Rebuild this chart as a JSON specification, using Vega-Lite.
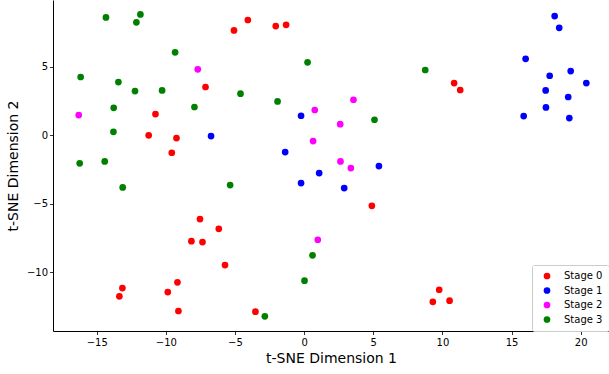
{
  "$schema": "https://vega.github.io/schema/vega-lite/v6.json",
  "width": 556,
  "height": 331,
  "autosize": {"type": "none"},
  "padding": {"left": 53, "top": 0, "right": 0, "bottom": 43},
  "config": {
    "view": {"stroke": null},
    "font": "DejaVu Sans",
    "axis": {"grid": false, "domainColor": "black", "tickColor": "black", "labelColor": "black", "titleColor": "black", "labelFont": "DejaVu Sans", "titleFont": "DejaVu Sans", "labelFontSize": 10, "titleFontSize": 14, "titleFontWeight": "normal", "tickSize": 3.5, "domainWidth": 1, "tickWidth": 0.8}
  },
  "data": {"values": [
    {"x": -14.33, "y": 8.61, "stage": "Stage 3"},
    {"x": -11.84, "y": 8.83, "stage": "Stage 3"},
    {"x": -12.13, "y": 8.25, "stage": "Stage 3"},
    {"x": -9.33, "y": 6.06, "stage": "Stage 3"},
    {"x": -16.16, "y": 4.26, "stage": "Stage 3"},
    {"x": -13.43, "y": 3.89, "stage": "Stage 3"},
    {"x": -12.23, "y": 3.23, "stage": "Stage 3"},
    {"x": -10.27, "y": 3.28, "stage": "Stage 3"},
    {"x": -13.77, "y": 2.01, "stage": "Stage 3"},
    {"x": -7.93, "y": 2.07, "stage": "Stage 3"},
    {"x": -4.6, "y": 3.04, "stage": "Stage 3"},
    {"x": -1.92, "y": 2.48, "stage": "Stage 3"},
    {"x": 0.25, "y": 5.33, "stage": "Stage 3"},
    {"x": -13.79, "y": 0.26, "stage": "Stage 3"},
    {"x": -16.23, "y": -2.04, "stage": "Stage 3"},
    {"x": -14.42, "y": -1.9, "stage": "Stage 3"},
    {"x": -13.12, "y": -3.8, "stage": "Stage 3"},
    {"x": -5.35, "y": -3.63, "stage": "Stage 3"},
    {"x": 8.76, "y": 4.77, "stage": "Stage 3"},
    {"x": 5.09, "y": 1.14, "stage": "Stage 3"},
    {"x": -2.84, "y": -13.21, "stage": "Stage 3"},
    {"x": 0.03, "y": -10.61, "stage": "Stage 3"},
    {"x": 0.61, "y": -8.76, "stage": "Stage 3"},
    {"x": -5.07, "y": 7.66, "stage": "Stage 0"},
    {"x": -4.07, "y": 8.42, "stage": "Stage 0"},
    {"x": -2.05, "y": 7.98, "stage": "Stage 0"},
    {"x": -1.3, "y": 8.07, "stage": "Stage 0"},
    {"x": -7.13, "y": 3.53, "stage": "Stage 0"},
    {"x": -10.75, "y": 1.55, "stage": "Stage 0"},
    {"x": -11.24, "y": 0.0, "stage": "Stage 0"},
    {"x": -9.23, "y": -0.2, "stage": "Stage 0"},
    {"x": -9.57, "y": -1.27, "stage": "Stage 0"},
    {"x": 10.85, "y": 3.82, "stage": "Stage 0"},
    {"x": 11.29, "y": 3.31, "stage": "Stage 0"},
    {"x": -7.53, "y": -6.11, "stage": "Stage 0"},
    {"x": -6.17, "y": -6.82, "stage": "Stage 0"},
    {"x": -8.15, "y": -7.72, "stage": "Stage 0"},
    {"x": -7.35, "y": -7.79, "stage": "Stage 0"},
    {"x": -5.72, "y": -9.47, "stage": "Stage 0"},
    {"x": -9.16, "y": -10.73, "stage": "Stage 0"},
    {"x": -9.86, "y": -11.44, "stage": "Stage 0"},
    {"x": -13.14, "y": -11.15, "stage": "Stage 0"},
    {"x": -13.36, "y": -11.75, "stage": "Stage 0"},
    {"x": -9.09, "y": -12.82, "stage": "Stage 0"},
    {"x": -3.52, "y": -12.87, "stage": "Stage 0"},
    {"x": 4.9, "y": -5.14, "stage": "Stage 0"},
    {"x": 9.77, "y": -11.27, "stage": "Stage 0"},
    {"x": 9.31, "y": -12.15, "stage": "Stage 0"},
    {"x": 10.52, "y": -12.07, "stage": "Stage 0"},
    {"x": -6.73, "y": -0.05, "stage": "Stage 1"},
    {"x": -0.22, "y": 1.43, "stage": "Stage 1"},
    {"x": -1.37, "y": -1.22, "stage": "Stage 1"},
    {"x": -0.22, "y": -3.48, "stage": "Stage 1"},
    {"x": 18.12, "y": 8.71, "stage": "Stage 1"},
    {"x": 18.45, "y": 7.85, "stage": "Stage 1"},
    {"x": 16.02, "y": 5.59, "stage": "Stage 1"},
    {"x": 17.76, "y": 4.35, "stage": "Stage 1"},
    {"x": 19.28, "y": 4.69, "stage": "Stage 1"},
    {"x": 20.41, "y": 3.82, "stage": "Stage 1"},
    {"x": 17.47, "y": 3.28, "stage": "Stage 1"},
    {"x": 19.1, "y": 2.8, "stage": "Stage 1"},
    {"x": 17.49, "y": 2.04, "stage": "Stage 1"},
    {"x": 15.88, "y": 1.41, "stage": "Stage 1"},
    {"x": 19.18, "y": 1.26, "stage": "Stage 1"},
    {"x": 5.41, "y": -2.24, "stage": "Stage 1"},
    {"x": 1.09, "y": -2.75, "stage": "Stage 1"},
    {"x": 2.9, "y": -3.85, "stage": "Stage 1"},
    {"x": -7.69, "y": 4.82, "stage": "Stage 2"},
    {"x": -16.3, "y": 1.48, "stage": "Stage 2"},
    {"x": 3.57, "y": 2.6, "stage": "Stage 2"},
    {"x": 0.77, "y": 1.85, "stage": "Stage 2"},
    {"x": 2.61, "y": 0.82, "stage": "Stage 2"},
    {"x": 0.65, "y": -0.42, "stage": "Stage 2"},
    {"x": 2.63, "y": -1.9, "stage": "Stage 2"},
    {"x": 3.38, "y": -2.39, "stage": "Stage 2"},
    {"x": 0.99, "y": -7.62, "stage": "Stage 2"}
  ]},
  "mark": {"type": "point", "filled": true, "opacity": 1, "shape": "circle", "size": 45},
  "encoding": {
    "x": {"field": "x", "type": "quantitative", "scale": {"domain": [-18.16, 22.05], "nice": false, "zero": false}, "axis": {"values": [-15, -10, -5, 0, 5, 10, 15, 20], "title": "t-SNE Dimension 1", "labelPadding": 3, "titlePadding": 4}},
    "y": {"field": "y", "type": "quantitative", "scale": {"domain": [-14.28, 9.88], "nice": false, "zero": false}, "axis": {"values": [-10, -5, 0, 5], "title": "t-SNE Dimension 2", "labelPadding": 2, "titlePadding": 6}},
    "color": {"field": "stage", "type": "nominal", "scale": {"domain": ["Stage 0", "Stage 1", "Stage 2", "Stage 3"], "range": ["#ff0000", "#0000ff", "#ff00ff", "#008000"]},
      "legend": {"title": null, "orient": "none", "legendX": 479, "legendY": 265, "padding": 6, "strokeColor": "#cccccc", "fillColor": "white", "cornerRadius": 2, "labelFontSize": 10, "labelColor": "black", "labelFont": "DejaVu Sans", "symbolSize": 45, "symbolType": "circle", "rowPadding": 4.5, "labelOffset": 12, "symbolOffset": 4}}
  }
}
